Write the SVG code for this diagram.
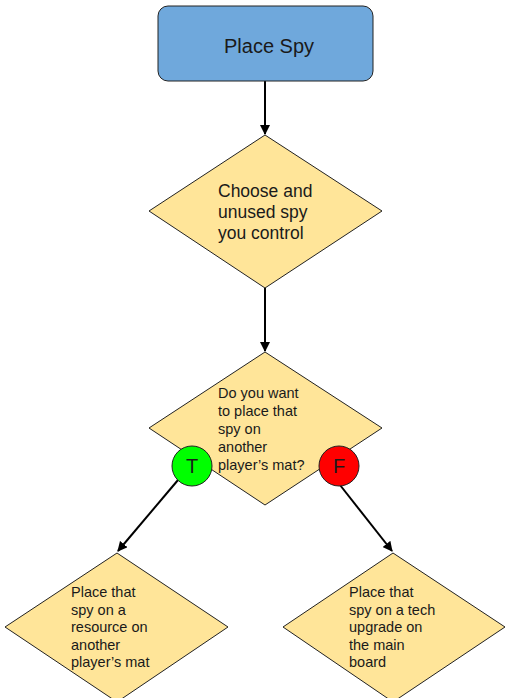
<svg xmlns="http://www.w3.org/2000/svg" width="506" height="698" viewBox="0 0 506 698">
  <defs>
    <marker id="arrow" viewBox="0 0 10 10" refX="9" refY="5" markerWidth="5" markerHeight="5" orient="auto" markerUnits="strokeWidth">
      <path d="M0,0 L10,5 L0,10 z" fill="#000"/>
    </marker>
  </defs>
  <style>
    .box { fill: #6fa8dc; stroke: #222; stroke-width: 1; }
    .dec { fill: #ffe599; stroke: #222; stroke-width: 1; }
    .t { font-family: "Liberation Sans", Arial, sans-serif; fill: #1a1a1a; }
    .lbl { font-size: 14.5px; }
    .edge { stroke: #000; stroke-width: 2; fill: none; marker-end: url(#arrow); }
  </style>
  <rect width="506" height="698" fill="#fff"/>

  <g id="connectors">
    <line class="edge" x1="265" y1="81" x2="265" y2="134"/>
    <line class="edge" x1="265" y1="288" x2="265" y2="351"/>
    <line class="edge" x1="178" y1="480" x2="118" y2="551"/>
    <line class="edge" x1="340" y1="485" x2="392" y2="551"/>
  </g>

  <g id="place-spy">
    <rect class="box" x="158" y="6" width="215" height="75" rx="10" ry="10"/>
    <text class="t" x="269" y="53" font-size="20" text-anchor="middle">Place Spy</text>
  </g>

  <g id="choose-spy">
    <polygon class="dec" points="265,135 382,211 265,288 149,211"/>
    <text class="t" font-size="17.5">
      <tspan x="218" y="197">Choose and</tspan>
      <tspan x="218" y="218">unused spy</tspan>
      <tspan x="218" y="239">you control</tspan>
    </text>
  </g>

  <g id="ask-mat">
    <polygon class="dec" points="265,352 382,428 265,505 149,428"/>
    <text class="t lbl">
      <tspan x="218" y="398">Do you want</tspan>
      <tspan x="218" y="416">to place that</tspan>
      <tspan x="218" y="434">spy on</tspan>
      <tspan x="218" y="452">another</tspan>
      <tspan x="218" y="470">player’s mat?</tspan>
    </text>
  </g>

  <g id="true-badge">
    <circle cx="192" cy="466" r="20" fill="#00ff00" stroke="#222" stroke-width="1"/>
    <text class="t" x="192" y="473" font-size="20" text-anchor="middle">T</text>
  </g>

  <g id="false-badge">
    <circle cx="339" cy="466" r="20" fill="#ff0000" stroke="#222" stroke-width="1"/>
    <text class="t" x="339" y="473" font-size="20" text-anchor="middle">F</text>
  </g>

  <g id="spy-resource">
    <polygon class="dec" points="117,553 228,627 117,702 5,627"/>
    <text class="t lbl">
      <tspan x="71" y="597">Place that</tspan>
      <tspan x="71" y="615">spy on a</tspan>
      <tspan x="71" y="632">resource on</tspan>
      <tspan x="71" y="650">another</tspan>
      <tspan x="71" y="667">player’s mat</tspan>
    </text>
  </g>

  <g id="spy-tech">
    <polygon class="dec" points="393,553 505,627 393,702 283,627"/>
    <text class="t lbl">
      <tspan x="349" y="597">Place that</tspan>
      <tspan x="349" y="615">spy on a tech</tspan>
      <tspan x="349" y="632">upgrade on</tspan>
      <tspan x="349" y="650">the main</tspan>
      <tspan x="349" y="667">board</tspan>
    </text>
  </g>
</svg>
